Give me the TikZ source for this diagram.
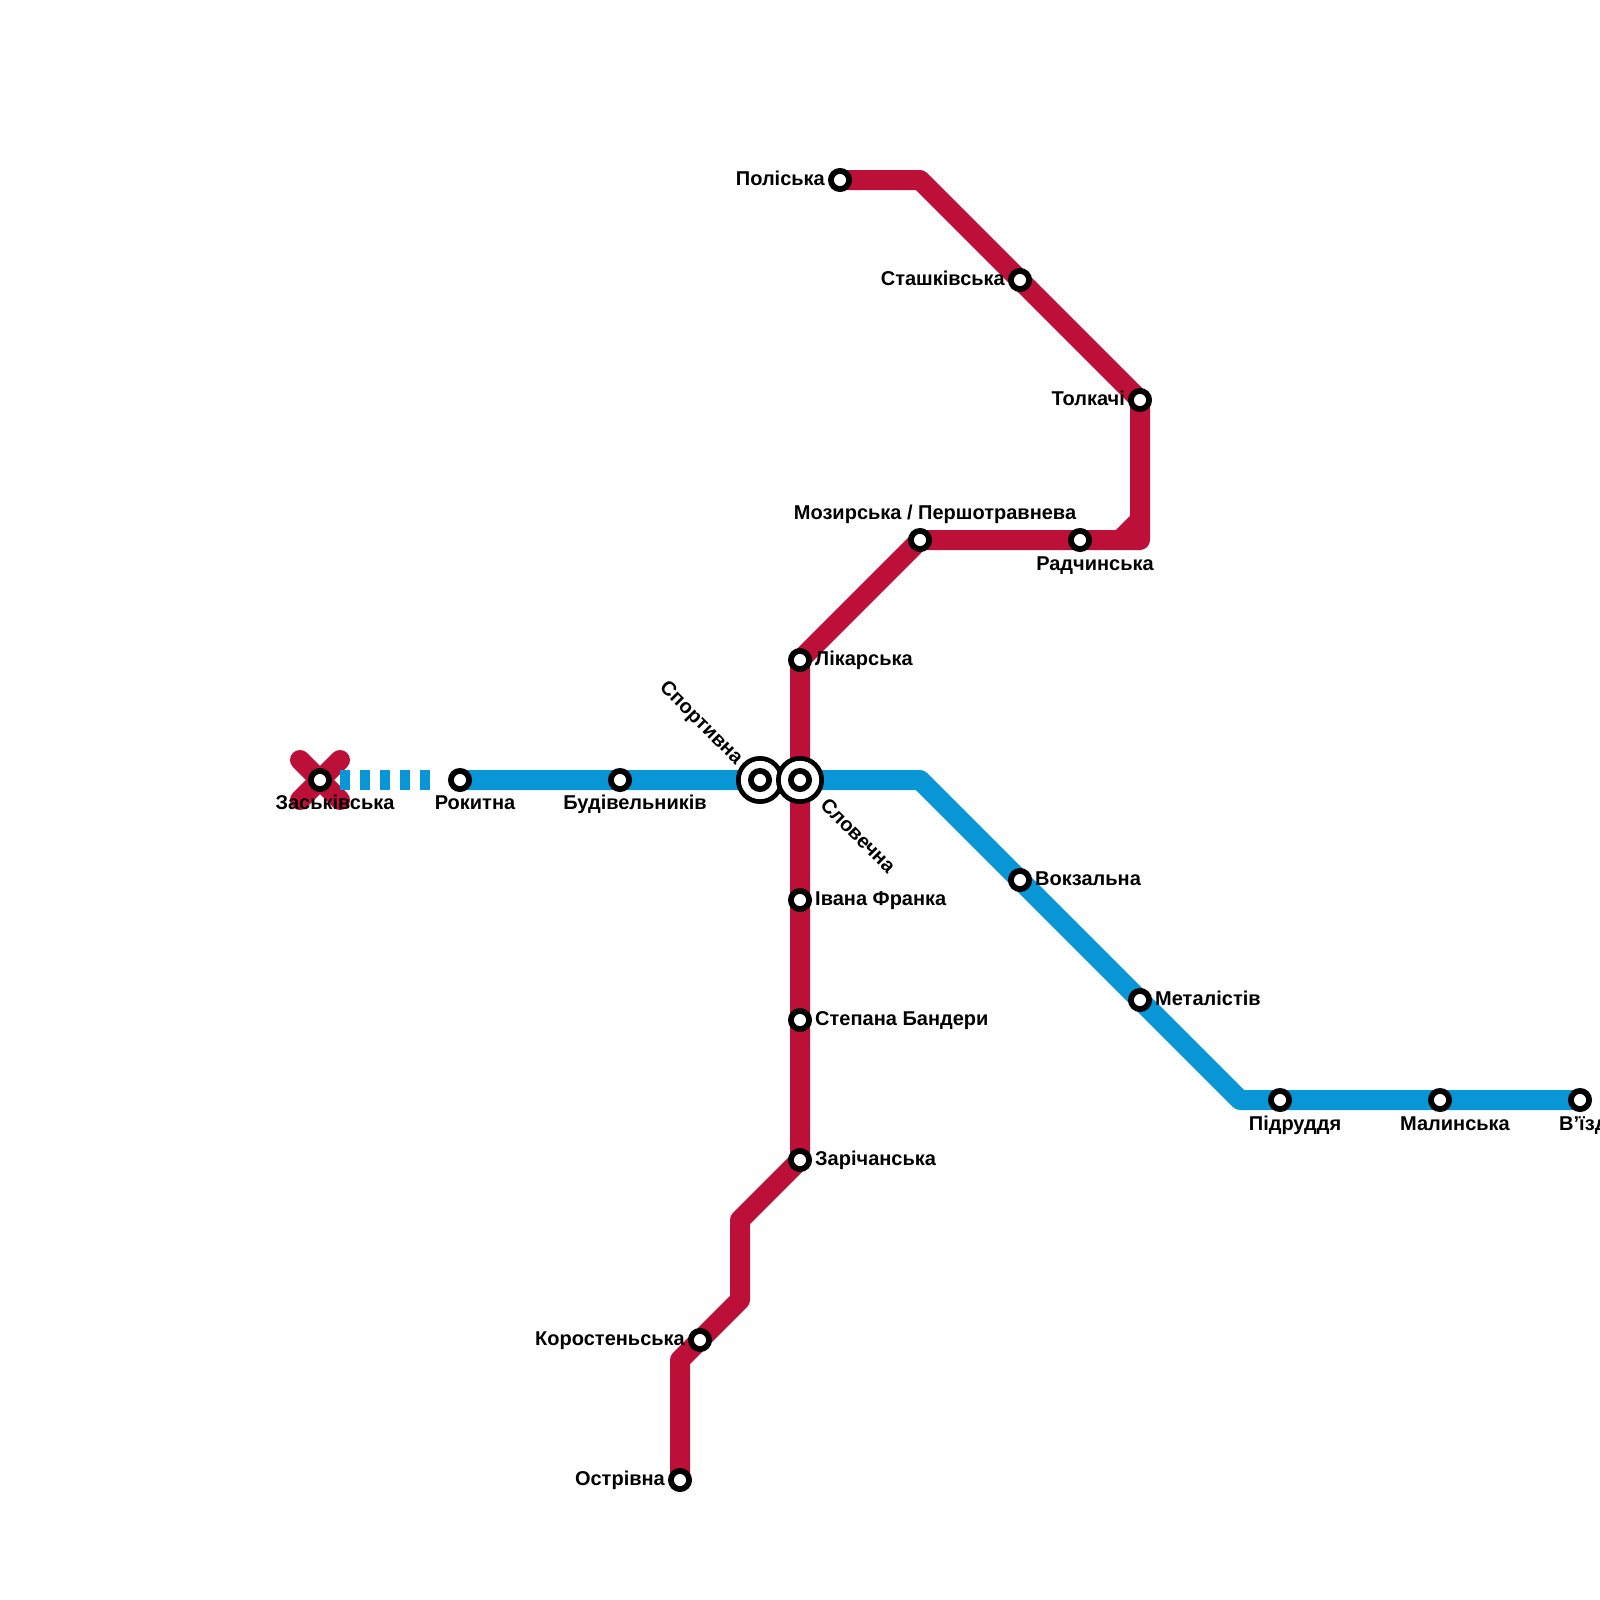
\documentclass[tikz,border=0pt]{standalone}
\usepackage{fontspec}
\setmainfont{Liberation Sans}[BoldFont={Liberation Sans Bold}]
\definecolor{redline}{HTML}{BD1038}
\definecolor{blueline}{HTML}{0896D7}
\tikzset{
  redpath/.style={draw=redline,line width=20pt,line join=round,line cap=butt},
  bluepath/.style={draw=blueline,line width=20pt,line join=round,line cap=butt},
  stn/.style={circle,draw=black,fill=white,line width=5.8pt,minimum size=18.2pt,inner sep=0pt,outer sep=0pt},
  ringouter/.style={circle,draw=black,fill=white,line width=4.7pt,minimum size=43.3pt,inner sep=0pt,outer sep=0pt},
  lab/.style={font=\bfseries\fontsize{20}{22}\selectfont,text=black,inner sep=0pt},
}
\begin{document}
\begin{tikzpicture}[x=1pt,y=-1pt]
\useasboundingbox (0,0) rectangle (1600,1600);
% red route points
\coordinate (polC) at (840,180);
\coordinate (r1) at (920,180);
\coordinate (tolC) at (1140,400);
\coordinate (r2) at (1140,540);
\coordinate (r2a) at (1140,520);
\coordinate (r2b) at (1120,540);
\coordinate (radC) at (1080,540);
\coordinate (mozC) at (920,540);
\coordinate (likC) at (800,660);
\coordinate (zarC) at (800,1160);
\coordinate (r3) at (740,1220);
\coordinate (r4) at (740,1300);
\coordinate (r5) at (680,1360);
\coordinate (ostC) at (680,1480);
% blue route points
\coordinate (rokC) at (460,780);
\coordinate (b1) at (920,780);
\coordinate (b2) at (1240,1100);
\coordinate (vyiC) at (1580,1100);
\coordinate (d1) at (340,780);
\coordinate (d2) at (430,780);
\coordinate (zasC) at (320,780);
\coordinate (x1) at (300,760);
\coordinate (x2) at (340,800);
\coordinate (x3) at (340,760);
\coordinate (x4) at (300,800);
% lines
\draw[redpath,line cap=round] (x1) -- (x2);
\draw[redpath,line cap=round] (x3) -- (x4);
\draw[redpath] (polC) -- (r1) -- (tolC) -- (r2) -- (mozC) -- (likC) -- (zarC) -- (r3) -- (r4) -- (r5) -- (ostC);
\draw[redpath] (r2a) -- (r2b);
\draw[bluepath] (rokC) -- (b1) -- (b2) -- (vyiC);
\draw[draw=blueline,line width=20pt,dash pattern=on 10pt off 10pt] (d1) -- (d2);
% stations
\node[stn] (zas) at (zasC) {};
\node[stn] (rok) at (rokC) {};
\node[stn] (bud) at (620,780) {};
\node[ringouter] (spoO) at (760,780) {};
\node[stn] (spo) at (760,780) {};
\node[ringouter] (sloO) at (800,780) {};
\node[stn] (slo) at (800,780) {};
\node[stn] (vok) at (1020,880) {};
\node[stn] (met) at (1140,1000) {};
\node[stn] (pid) at (1280,1100) {};
\node[stn] (mal) at (1440,1100) {};
\node[stn] (vyi) at (vyiC) {};
\node[stn] (pol) at (polC) {};
\node[stn] (sta) at (1020,280) {};
\node[stn] (tol) at (tolC) {};
\node[stn] (rad) at (radC) {};
\node[stn] (moz) at (mozC) {};
\node[stn] (lik) at (likC) {};
\node[stn] (iva) at (800,900) {};
\node[stn] (ste) at (800,1020) {};
\node[stn] (zar) at (zarC) {};
\node[stn] (kor) at (700,1340) {};
\node[stn] (ost) at (ostC) {};
% labels
\node[lab,anchor=base] (tzas) at (335,809) {Заськівська};
\node[lab,anchor=base] (trok) at (475,809) {Рокитна};
\node[lab,anchor=base] (tbud) at (635,809) {Будівельників};
\node[lab,anchor=base] (tpid) at (1295,1130) {Підруддя};
\node[lab,anchor=base] (tmal) at (1455,1130) {Малинська};
\node[lab,anchor=base west] (tvyi) at (1559,1130) {В’їзд};
\node[lab,anchor=base east] (tpol) at (825,185) {Поліська};
\node[lab,anchor=base east] (tsta) at (1005,285) {Сташківська};
\node[lab,anchor=base east] (ttol) at (1125,405) {Толкачі};
\node[lab,anchor=base] (tmoz) at (935,519) {Мозирська / Першотравнева};
\node[lab,anchor=base] (trad) at (1095,570) {Радчинська};
\node[lab,anchor=base west] (tlik) at (815,665) {Лікарська};
\node[lab,anchor=base west] (tiva) at (815,905) {Івана Франка};
\node[lab,anchor=base west] (tste) at (815,1025) {Степана Бандери};
\node[lab,anchor=base west] (tzar) at (815,1165) {Зарічанська};
\node[lab,anchor=base west] (tvok) at (1035,885) {Вокзальна};
\node[lab,anchor=base west] (tmet) at (1155,1005) {Металістів};
\node[lab,anchor=base east] (tkor) at (685,1345) {Коростеньська};
\node[lab,anchor=base east] (tost) at (665,1485) {Острівна};
\node[lab,anchor=east,rotate=-45] (tspo) at (739,762) {Спортивна};
\node[lab,anchor=west,rotate=-45] (tslo) at (824,801) {Словечна};
\end{tikzpicture}
\end{document}
